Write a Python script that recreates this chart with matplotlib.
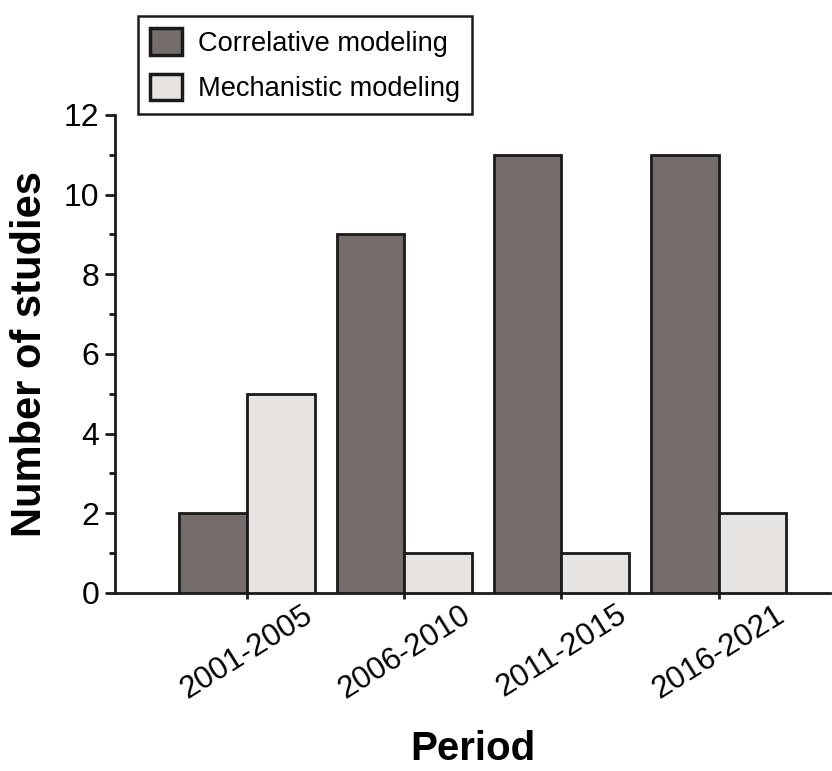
import numpy as np
import matplotlib
matplotlib.use("Agg")
import matplotlib.pyplot as plt

# data
periods = ["2001-2005", "2006-2010", "2011-2015", "2016-2021"]
correlative = [2, 9, 11, 11]
mechanistic = [5, 1, 1, 2]

plt.rcParams["font.family"] = ["Liberation Sans", "DejaVu Sans"]

fig = plt.figure(figsize=(8.32, 7.71), dpi=100)
ax = fig.add_axes([0.138, 0.231, 0.86, 0.62])

x = np.arange(len(periods))
w = 0.43
edge = "#1a1a1a"
ax.bar(x - w/2, correlative, w, color="#756d69", edgecolor=edge, linewidth=2.0,
       label="Correlative modeling", zorder=3)
ax.bar(x + w/2, mechanistic, w, color="#e7e3e0", edgecolor=edge, linewidth=2.0,
       label="Mechanistic modeling", zorder=3)

ax.set_xlim(-0.84, 3.71)
ax.set_ylim(0, 12)
ax.set_yticks(range(0, 13, 2))
ax.set_yticks(range(1, 12, 2), minor=True)
ax.set_xticks(x)
ax.set_xticklabels(periods, rotation=32, ha="center")

for s in ["top", "right"]:
    ax.spines[s].set_visible(False)
for s in ["left", "bottom"]:
    ax.spines[s].set_linewidth(2.0)
    ax.spines[s].set_color(edge)

ax.tick_params(axis="y", which="major", length=7, width=2.0, labelsize=23, color=edge, pad=4)
ax.tick_params(axis="y", which="minor", length=4, width=2.0, color=edge)
ax.tick_params(axis="x", length=4, width=2.0, labelsize=22.5, color=edge, pad=1)

ax.set_ylabel("Number of studies", fontsize=30, fontweight="bold", labelpad=10)
ax.set_xlabel("Period", fontsize=29, fontweight="bold", labelpad=18)

leg = fig.legend(loc="upper left", bbox_to_anchor=(0.166, 0.979), fontsize=19.6,
                 frameon=True, fancybox=False, edgecolor=edge, handlelength=1.15,
                 handleheight=1.1, handletextpad=0.6, borderpad=0.45, labelspacing=0.62,
                 borderaxespad=0)
leg.get_frame().set_linewidth(1.8)
leg.get_frame().set_alpha(1)
leg.get_frame().set_edgecolor(edge)
for h in leg.legend_handles:
    h.set_linewidth(2.5)

fig.savefig("out.png", dpi=100)
